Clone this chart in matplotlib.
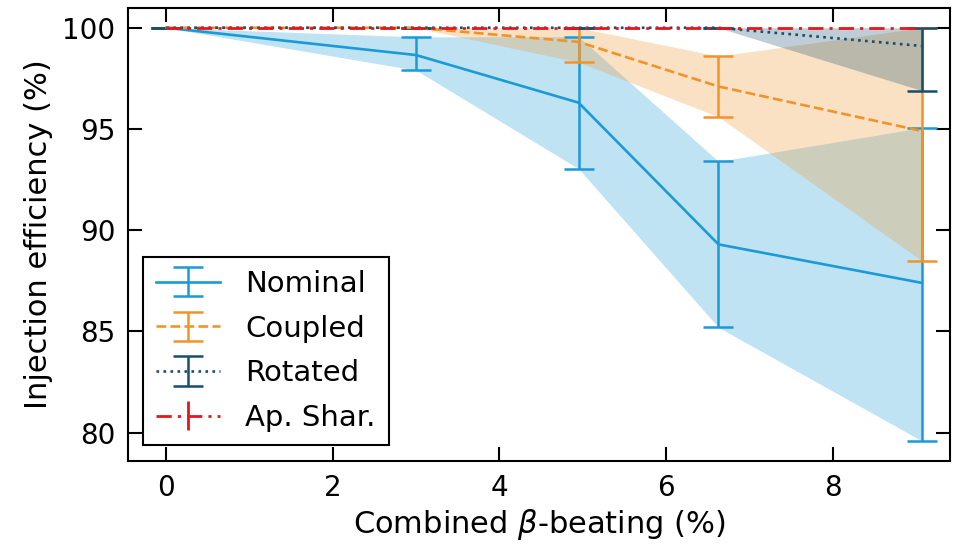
import matplotlib
matplotlib.use("Agg")
import matplotlib.pyplot as plt
import numpy as np

beating = [0.0, 3.0, 4.95, 6.63, 9.07]

nominal = [100.0, 98.65, 96.3, 89.3, 87.4]
nominal_lo = [100.0, 97.9, 93.04, 85.2, 79.6]
nominal_hi = [100.0, 99.55, 99.56, 93.4, 95.06]

coupled = [100.0, 100.0, 99.3, 97.1, 94.9]
coupled_lo = [100.0, 100.0, 98.3, 95.6, 88.5]
coupled_hi = [100.0, 100.0, 100.0, 98.6, 100.0]

rotated = [100.0, 100.0, 100.0, 100.0, 99.1]
rotated_lo = [100.0, 100.0, 100.0, 100.0, 96.9]
rotated_hi = [100.0, 100.0, 100.0, 100.0, 100.0]

shared = [100.0, 100.0, 100.0, 100.0, 100.0]

series = [
    ("Nominal", nominal, nominal_lo, nominal_hi, "#1a9bd7", "-"),
    ("Coupled", coupled, coupled_lo, coupled_hi, "#f0942a", "--"),
    ("Rotated", rotated, rotated_lo, rotated_hi, "#174e6e", ":"),
]

fig = plt.figure(figsize=(9.63, 5.44), dpi=100)
ax = fig.add_axes([128 / 963, 83 / 544, 822 / 963, 453.5 / 544])

x = np.array(beating)
for name, y, lo, hi, col, ls in series:
    y = np.array(y)
    lo = np.array(lo)
    hi = np.array(hi)
    ax.fill_between(x, lo, hi, color=col, alpha=0.28, linewidth=0)
    ax.errorbar(x, y, yerr=[y - lo, hi - y], color=col, linestyle=ls, linewidth=1.9,
                elinewidth=1.8, capsize=11, capthick=1.8, label=name)

ax.errorbar(x, shared, yerr=np.zeros(len(shared)), color="#e8161b", linewidth=2.0,
            linestyle=(0, (5.5, 2.2, 1.1, 2.2)), capsize=0, label="Ap. Shar.")

ax.set_xlim(-0.46, 9.41)
ax.set_ylim(78.6, 101.0)
ax.set_xticks([0, 2, 4, 6, 8])
ax.set_yticks([80, 85, 90, 95, 100])
ax.tick_params(direction="in", length=10, width=1.5, labelsize=20, top=True, right=True, pad=9)
for s in ax.spines.values():
    s.set_linewidth(1.5)

ax.set_xlabel(r"Combined $\beta$-beating (%)", fontsize=22, labelpad=4)
ax.set_ylabel("Injection efficiency (%)", fontsize=22, labelpad=7)

# legend box placed by hand, flush to the lower left corner
leg = ax.legend(loc="lower left", fontsize=21, fancybox=False, edgecolor="black",
                framealpha=1, handlelength=2.2, handletextpad=0.85, borderpad=0.45,
                labelspacing=0.57, borderaxespad=0, bbox_to_anchor=(15 / 822, 16 / 453))
leg.get_frame().set_linewidth(1.5)

fig.savefig("out.png", dpi=100)
